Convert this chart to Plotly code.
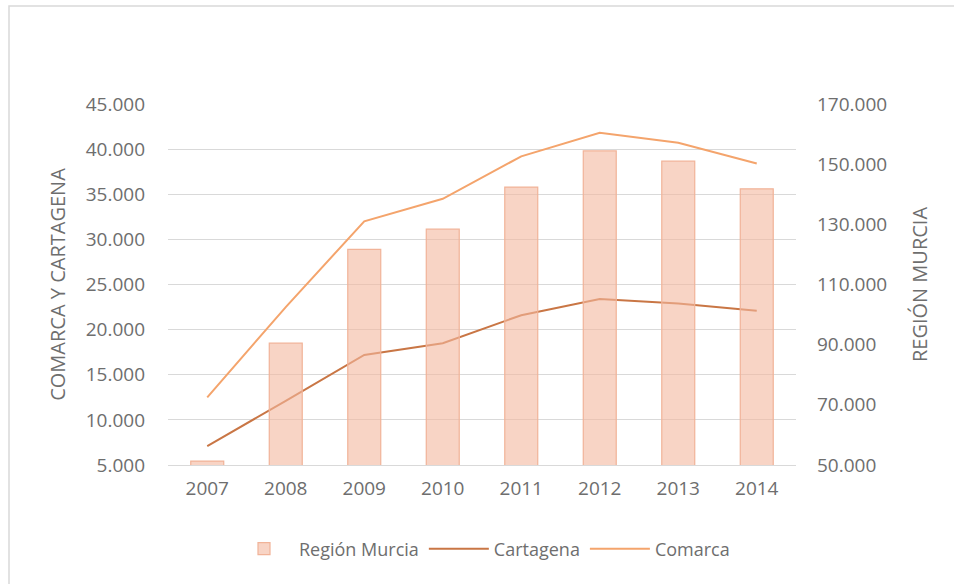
import plotly.graph_objects as go

years = ["2007", "2008", "2009", "2010", "2011", "2012", "2013", "2014"]
region_murcia = [51300, 90500, 121700, 128400, 142400, 154400, 151000, 141800]
cartagena = [7100, 12100, 17200, 18500, 21600, 23400, 22900, 22100]
comarca = [12500, 22500, 32000, 34500, 39200, 41800, 40700, 38400]

left_ticks = [5000, 10000, 15000, 20000, 25000, 30000, 35000, 40000, 45000]
right_ticks = [50000, 70000, 90000, 110000, 130000, 150000, 170000]

W, H = 954, 584
L, R, T, B = 168, 954 - 796, 104, 584 - 465
pw, ph = W - L - R, H - T - B

FAM = "Open Sans"
GREY = "#6E6E6E"
tick_font = dict(family=FAM, size=19, color=GREY)
title_font = dict(family=FAM, size=20, color=GREY)
legend_font = dict(family=FAM, size=18, color=GREY)

fig = go.Figure()
fig.add_trace(go.Bar(
    x=years, y=region_murcia, name="Región Murcia", yaxis="y2",
    marker=dict(color="rgba(243,183,158,0.6)",
                line=dict(color="#F1B398", width=1.2)),
))
fig.add_trace(go.Scatter(
    x=years, y=cartagena, name="Cartagena", mode="lines",
    line=dict(color="#C97645", width=2),
))
fig.add_trace(go.Scatter(
    x=years, y=comarca, name="Comarca", mode="lines",
    line=dict(color="#F4A46C", width=2),
))

fig.update_layout(
    width=W, height=H,
    margin=dict(l=L, r=R, t=T, b=B),
    paper_bgcolor="white", plot_bgcolor="white",
    separators=",.",
    font=tick_font,
    bargap=0.58,
    xaxis=dict(
        type="category", showgrid=False, showline=True, linecolor="#D9D9D9",
        linewidth=1, ticks="", tickfont=tick_font, ticklabelstandoff=6,
    ),
    yaxis=dict(
        range=[5000, 45000], tickvals=left_ticks, tickformat=",d",
        showgrid=True, gridcolor="#D9D9D9", gridwidth=1, zeroline=False,
        showline=False, ticks="", tickfont=tick_font, ticklabelstandoff=22,
        title=dict(text="COMARCA Y CARTAGENA", font=title_font, standoff=14),
    ),
    yaxis2=dict(
        range=[50000, 170000], tickvals=right_ticks, tickformat=",d",
        overlaying="y", side="right", showgrid=False, zeroline=False,
        showline=False, ticks="", tickfont=tick_font, ticklabelstandoff=20,
        title=dict(text="REGIÓN MURCIA", font=title_font, standoff=26),
    ),
    legend=dict(
        orientation="h", x=0.5, xanchor="center",
        y=(465 - 549) / ph, yanchor="middle",
        font=legend_font, bgcolor="rgba(0,0,0,0)", itemwidth=60,
    ),
    shapes=[dict(
        type="rect", xref="paper", yref="paper", layer="below",
        x0=(9 - L) / pw, x1=(W + 20 - L) / pw,
        y0=(465 - (H + 20)) / ph, y1=(465 - 6) / ph,
        line=dict(color="#D9D9D9", width=1.5), fillcolor="rgba(0,0,0,0)",
    )],
)

fig.write_html(
    "out.html",
    config={"displayModeBar": False},
    post_script="document.body.style.margin='0';document.body.style.overflow='hidden';",
)
